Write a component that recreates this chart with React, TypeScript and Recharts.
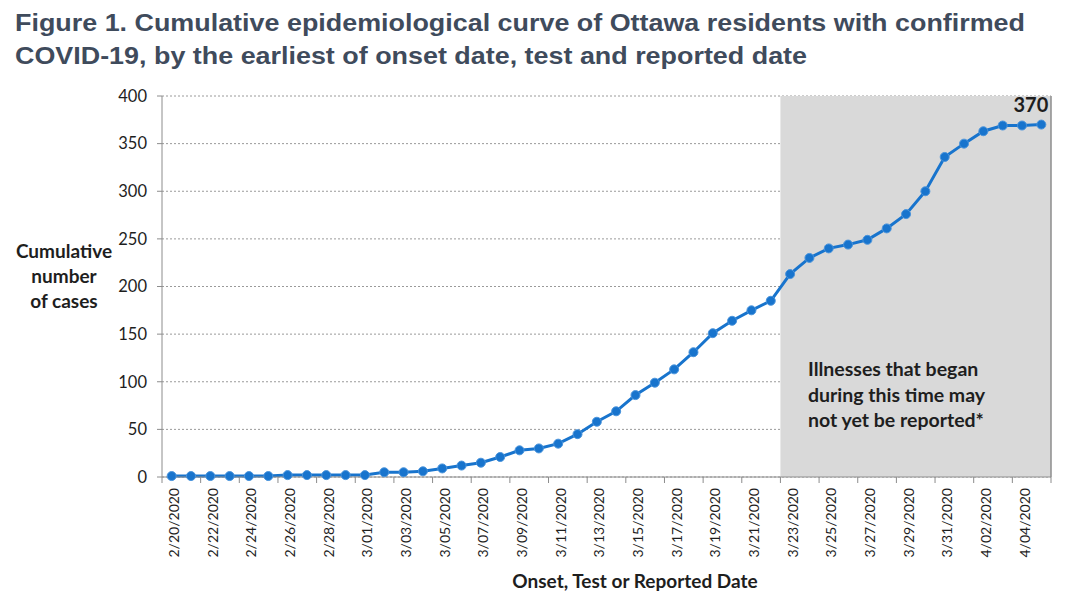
import React from 'react';
import {
  LineChart,
  Line,
  XAxis,
  YAxis,
  CartesianGrid,
  ReferenceArea,
  ReferenceLine,
} from 'recharts';

const dates: string[] = [
  '2/20/2020', '2/21/2020', '2/22/2020', '2/23/2020', '2/24/2020', '2/25/2020',
  '2/26/2020', '2/27/2020', '2/28/2020', '2/29/2020',
  '3/01/2020', '3/02/2020', '3/03/2020', '3/04/2020', '3/05/2020', '3/06/2020',
  '3/07/2020', '3/08/2020', '3/09/2020', '3/10/2020', '3/11/2020', '3/12/2020',
  '3/13/2020', '3/14/2020', '3/15/2020', '3/16/2020', '3/17/2020', '3/18/2020',
  '3/19/2020', '3/20/2020', '3/21/2020', '3/22/2020', '3/23/2020', '3/24/2020',
  '3/25/2020', '3/26/2020', '3/27/2020', '3/28/2020', '3/29/2020', '3/30/2020',
  '3/31/2020', '4/01/2020', '4/02/2020', '4/03/2020', '4/04/2020', '4/05/2020',
];

const cumulativeCases: number[] = [
  1, 1, 1, 1, 1, 1, 2, 2, 2, 2,
  2, 5, 5, 6, 9, 12, 15, 21, 28, 30,
  35, 45, 58, 69, 86, 99, 113, 131, 151, 164,
  175, 185, 213, 230, 240, 244, 249, 261, 276, 300,
  336, 350, 363, 369, 369, 370,
];

const yTicks: number[] = [0, 50, 100, 150, 200, 250, 300, 350, 400];
const shadeStartDate = '3/23/2020';
const lastLabel = '370';

const data = dates.map((d, i) => ({ idx: i, date: d, cases: cumulativeCases[i] }));
// tick marks sit on category boundaries (every second category), labels in the middle of the category after them
const boundaryTicks = dates
  .map((_, i) => i - 0.5)
  .filter((_, i) => i % 2 === 0)
  .concat([dates.length - 0.5]);
const xDomain: [number, number] = [-0.5, dates.length - 0.5];
const domainSpan = xDomain[1] - xDomain[0];
const shadeStart = dates.indexOf(shadeStartDate) - 0.5;

const FONT = 'Lato, "Open Sans", sans-serif';
const TEXT = '#1e1e1e';
const AXIS = '#8c8c8c';
const BLUE = '#1874CD';

const DateTick = (props: any) => {
  const { x, y, payload, width } = props;
  const idx = Math.round(payload.value + 0.5);
  const label = dates[idx];
  if (!label) return null;
  const axisWidth = typeof width === 'number' && width > 0 ? width : 889;
  const cx = x + (axisWidth / domainSpan) * 0.5 + 2;
  return (
    <text
      x={cx}
      y={y}
      transform={`rotate(-90 ${cx} ${y})`}
      textAnchor="end"
      dominantBaseline="central"
      fontSize={14}
      fontFamily={FONT}
      fill={TEXT}
    >
      {label}
    </text>
  );
};

const LastLabel = (props: any) => {
  const { x, y, index } = props;
  if (index !== dates.length - 1) return null;
  return (
    <text
      x={x + 7}
      y={y - 12.5}
      textAnchor="end"
      fontSize={20}
      fontWeight="bold"
      fontFamily={FONT}
      fill={TEXT}
    >
      {lastLabel}
    </text>
  );
};

export default function App() {
  return (
    <div
      style={{
        position: 'absolute',
        left: 0,
        top: 0,
        width: 1080,
        height: 607,
        background: '#ffffff',
      }}
    >
      <LineChart
        width={1080}
        height={607}
        data={data}
        margin={{ top: 96, right: 29, bottom: 50, left: 0 }}
      >
        <CartesianGrid
          horizontal
          vertical={false}
          stroke="#9a9a9a"
          strokeDasharray="2 2"
        />
        <XAxis
          dataKey="idx"
          type="number"
          domain={xDomain}
          ticks={boundaryTicks}
          interval={0}
          tick={<DateTick />}
          tickLine={{ stroke: AXIS }}
          tickSize={6}
          tickMargin={5}
          height={80}
          axisLine={{ stroke: AXIS }}
        />
        <YAxis
          type="number"
          domain={[0, 400]}
          ticks={yTicks}
          interval={0}
          width={162}
          tickSize={5}
          tickMargin={10}
          tickLine={{ stroke: AXIS }}
          axisLine={{ stroke: AXIS }}
          tick={{ fontSize: 16.5, fontFamily: FONT, fill: TEXT }}
        />
        <ReferenceArea
          x1={shadeStart}
          x2={xDomain[1]}
          y1={0}
          y2={400}
          fill="#d9d9d9"
          fillOpacity={1}
          stroke="none"
        />
        <ReferenceLine x={xDomain[1]} stroke={AXIS} strokeWidth={1.5} />
        <Line
          type="linear"
          dataKey="cases"
          stroke={BLUE}
          strokeWidth={3}
          dot={{ r: 4.5, fill: BLUE, stroke: '#4a94dc', strokeWidth: 1 }}
          activeDot={false}
          label={<LastLabel />}
          isAnimationActive={false}
        />
      </LineChart>
      <svg
        width={1080}
        height={607}
        style={{ position: 'absolute', left: 0, top: 0, pointerEvents: 'none' }}
      >
        <g
          fontFamily='"Liberation Sans", Arial, sans-serif'
          fontWeight="bold"
          fontSize={24}
          fill="#3f4b5c"
        >
          <text x={15} y={31} textLength={1010} lengthAdjust="spacingAndGlyphs">
            Figure 1. Cumulative epidemiological curve of Ottawa residents with confirmed
          </text>
          <text x={15} y={64} textLength={792} lengthAdjust="spacingAndGlyphs">
            COVID-19, by the earliest of onset date, test and reported date
          </text>
        </g>
        <g fontFamily={FONT} fontWeight="bold" fontSize={19} fill={TEXT} textAnchor="middle">
          <text x={64} y={258}>Cumulative</text>
          <text x={64} y={283}>number</text>
          <text x={64} y={308}>of cases</text>
          <text x={635} y={588}>Onset, Test or Reported Date</text>
        </g>
        <g fontFamily={FONT} fontWeight="bold" fontSize={19.5} fill={TEXT}>
          <text x={808} y={376}>Illnesses that began</text>
          <text x={808} y={402}>during this time may</text>
          <text x={808} y={427}>not yet be reported*</text>
        </g>
      </svg>
    </div>
  );
}
